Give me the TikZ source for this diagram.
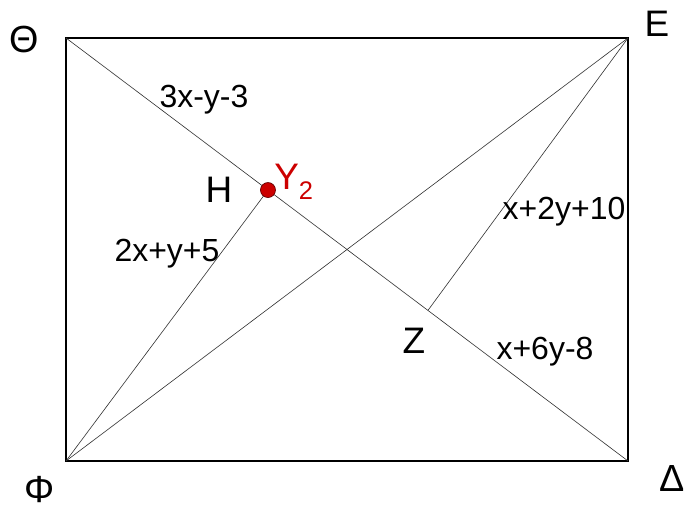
\documentclass[tikz,border=0pt]{standalone}
\usepackage{fontspec}
\setmainfont{Liberation Sans}
\usetikzlibrary{positioning, calc}
\definecolor{ptred}{HTML}{CC0000}
\tikzset{
  frame/.style ={draw=black, line width=0.6pt},
  seg/.style   ={draw=black!80, line width=0.35pt},
  eqn/.style   ={font=\fontsize{18.2}{21}\selectfont, inner sep=0pt},
  vtx/.style   ={font=\fontsize{21}{25}\selectfont, inner sep=0pt},
  gvtx/.style  ={font=\fontsize{21.5}{25}\selectfont, inner sep=0pt},
  pt/.style    ={circle, fill=ptred, draw=black!50!ptred, line width=0.4pt,
                 inner sep=0pt, minimum size=0.3cm},
}

\begin{document}
\begin{tikzpicture}[x=0.02cm, y=-0.02cm]
  \useasboundingbox (0,0) rectangle (686,509);
  % corners of the rectangle
  \coordinate (Th) at (66,38);
  \coordinate (E)  at (628,38);
  \coordinate (Ph) at (66,461);
  \coordinate (De) at (628,461);
  \coordinate (H)  at ($(Th)!0.3594!(De)$);
  \coordinate (Z)  at ($(Th)!0.644!(De)$);

  \draw[frame] (Th) -- (E) -- (De) -- (Ph) -- cycle;
  \draw[seg]   (Th) -- (De);
  \draw[seg]   (Ph) -- (E);
  \draw[seg]   (Ph) -- (H);
  \draw[seg]   (E)  -- (Z);
  \node[pt] (Hdot) at (H) {};

  \node[gvtx] (lTh) at (24,40)  {Θ};
  \node[vtx]  (lE)  at (657,24) {E};
  \node[gvtx] (lPh) at (40,490) {Φ};
  \node[gvtx] (lDe) at (672,479){Δ};
  \node[vtx]  (lH)  at (219,190){H};
  \node[vtx]  (lZ)  at (414,341){Z};
  \node[vtx, text=ptred, anchor=base west] (lY) at (274,190)
    {Y\raisebox{-5.5pt}{\fontsize{14.5}{17}\selectfont 2}};

  \node[eqn] (e1) at (204,100) {3x-y-3};
  \node[eqn] (e2) at (167,254) {2x+y+5};
  \node[eqn] (e3) at (564,212) {x+2y+10};
  \node[eqn] (e4) at (545,352) {x+6y-8};
\end{tikzpicture}
\end{document}
